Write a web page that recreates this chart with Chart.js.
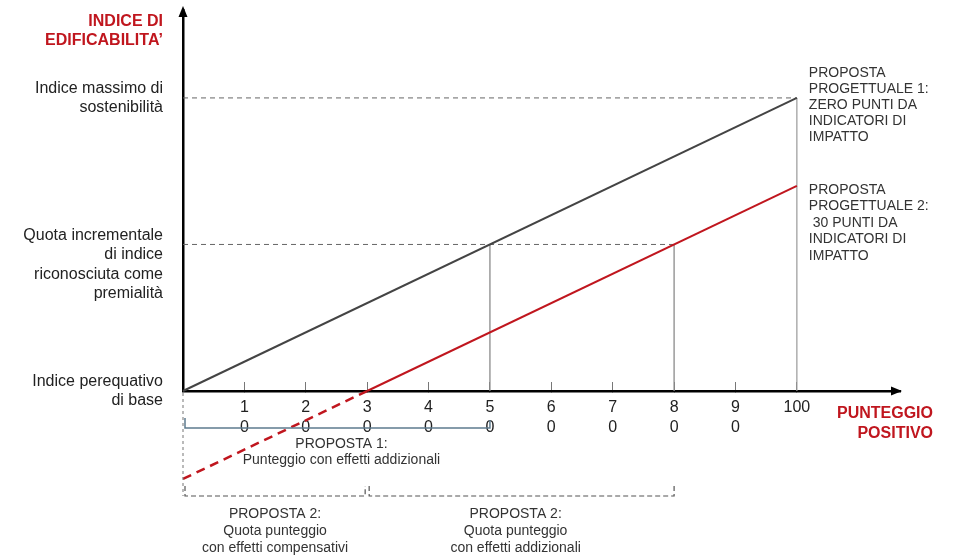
<!DOCTYPE html>
<html>
<head>
<meta charset="utf-8">
<script src="https://cdn.jsdelivr.net/npm/chart.js@4/dist/chart.umd.min.js"></script>
<style>
  body { margin: 0; background: #fff; }
  canvas { display: block; }
</style>
</head>
<body>
<canvas id="chart" width="955" height="560"></canvas>
<script>
// punteggio (asse x) e indice (asse y)
const xTicks = [10, 20, 30, 40, 50, 60, 70, 80, 90, 100];
const xTickLabels = [['1', '0'], ['2', '0'], ['3', '0'], ['4', '0'], ['5', '0'], ['6', '0'], ['7', '0'], ['8', '0'], ['9', '0'], '100'];

const score1 = [0, 100];
const index1 = [0, 100];
const score2 = [30, 100];
const index2 = [0, 70];
const score2Dashed = [0, 30];
const index2Dashed = [-30, 0];

const indexMax = 100;
const indexQuota = 50;
const indexBase = 0;
const quotaScore1 = 50;
const quotaScore2 = 80;
const thresholdScore = 30;

const yLabelTitle = ['INDICE DI', 'EDIFICABILITA’'];
const yLabelMax = ['Indice massimo di', 'sostenibilità'];
const yLabelQuota = ['Quota incrementale', 'di indice', 'riconosciuta come', 'premialità'];
const yLabelBase = ['Indice perequativo', 'di base'];
const xTitle = ['PUNTEGGIO', 'POSITIVO'];
const note1 = ['PROPOSTA', 'PROGETTUALE 1:', 'ZERO PUNTI DA', 'INDICATORI DI', 'IMPATTO'];
const note2 = ['PROPOSTA', 'PROGETTUALE 2:', ' 30 PUNTI DA', 'INDICATORI DI', 'IMPATTO'];
const prop1 = ['PROPOSTA 1:', 'Punteggio con effetti addizionali'];
const prop2a = ['PROPOSTA 2:', 'Quota punteggio', 'con effetti compensativi'];
const prop2b = ['PROPOSTA 2:', 'Quota punteggio', 'con effetti addizionali'];

const RED = '#c0161e';
const FONT = '"Liberation Sans", Arial, sans-serif';

function pts(xs, ys) {
    return xs.map((x, i) => ({ x: x, y: ys[i] }));
}

function lineSet(data, color, width, dash) {
    return {
        data: data,
        showLine: true,
        borderColor: color,
        borderWidth: width,
        borderDash: dash || [],
        pointRadius: 0,
        fill: false,
        clip: false
    };
}

function drawLines(ctx, lines, x, y, lh, align) {
    ctx.textAlign = align;
    ctx.textBaseline = 'middle';
    lines.forEach((t, i) => ctx.fillText(t, x, y + i * lh));
}

const annotations = {
    id: 'annotations',
    afterDraw(chart) {
        const ctx = chart.ctx;
        const xs = chart.scales.x;
        const ys = chart.scales.y;
        const area = chart.chartArea;
        const px = v => xs.getPixelForValue(v);
        const py = v => ys.getPixelForValue(v);
        const y0 = py(indexBase);
        ctx.save();

        // frecce degli assi
        ctx.fillStyle = '#000';
        ctx.beginPath();
        ctx.moveTo(area.left, area.top - 4);
        ctx.lineTo(area.left - 4.5, area.top + 7);
        ctx.lineTo(area.left + 4.5, area.top + 7);
        ctx.closePath();
        ctx.fill();
        ctx.beginPath();
        ctx.moveTo(area.right + 2, y0);
        ctx.lineTo(area.right - 9, y0 - 4.5);
        ctx.lineTo(area.right - 9, y0 + 4.5);
        ctx.closePath();
        ctx.fill();

        // etichette asse y
        const lx = area.left - 20;
        ctx.fillStyle = RED;
        ctx.font = 'bold 16px ' + FONT;
        drawLines(ctx, yLabelTitle, lx, area.top + 12, 19, 'right');
        ctx.fillStyle = '#222';
        ctx.font = '16px ' + FONT;
        drawLines(ctx, yLabelMax, lx, py(indexMax) - 9, 19, 'right');
        drawLines(ctx, yLabelQuota, lx, py(indexQuota) - 9, 19.5, 'right');
        drawLines(ctx, yLabelBase, lx, y0 - 9, 19, 'right');

        // titolo asse x
        ctx.fillStyle = RED;
        ctx.font = 'bold 16px ' + FONT;
        drawLines(ctx, xTitle, area.right + 33, y0 + 23, 20, 'right');

        // note a destra
        ctx.fillStyle = '#333';
        ctx.font = '14px ' + FONT;
        drawLines(ctx, note1, px(100) + 12, py(indexMax) - 25, 16, 'left');
        drawLines(ctx, note2, px(100) + 12, py(index2[1]) + 4, 16.5, 'left');

        // linea verticale tratteggiata sotto l'origine
        ctx.strokeStyle = '#777';
        ctx.lineWidth = 1;
        ctx.setLineDash([3, 3]);
        ctx.beginPath();
        ctx.moveTo(px(0), y0 + 2);
        ctx.lineTo(px(0), y0 + 105);
        ctx.stroke();

        // parentesi proposta 1
        ctx.setLineDash([]);
        ctx.strokeStyle = '#5d7b8e';
        ctx.lineWidth = 1.5;
        ctx.beginPath();
        ctx.moveTo(px(0) + 2, y0 + 27);
        ctx.lineTo(px(0) + 2, y0 + 37);
        ctx.lineTo(px(quotaScore1), y0 + 37);
        ctx.lineTo(px(quotaScore1), y0 + 29);
        ctx.stroke();

        ctx.fillStyle = '#333';
        ctx.font = '14px ' + FONT;
        drawLines(ctx, prop1, px(quotaScore1 / 2) + 5, y0 + 53, 16.5, 'center');

        // parentesi proposta 2
        ctx.strokeStyle = '#555';
        ctx.lineWidth = 1.2;
        ctx.setLineDash([5, 3]);
        ctx.beginPath();
        ctx.moveTo(px(0) + 2, y0 + 95);
        ctx.lineTo(px(0) + 2, y0 + 105);
        ctx.lineTo(px(thresholdScore) - 2, y0 + 105);
        ctx.lineTo(px(thresholdScore) - 2, y0 + 95);
        ctx.moveTo(px(thresholdScore) + 2, y0 + 95);
        ctx.lineTo(px(thresholdScore) + 2, y0 + 105);
        ctx.lineTo(px(quotaScore2), y0 + 105);
        ctx.lineTo(px(quotaScore2), y0 + 95);
        ctx.stroke();
        ctx.setLineDash([]);

        drawLines(ctx, prop2a, px(thresholdScore / 2), y0 + 123, 17, 'center');
        drawLines(ctx, prop2b, px((thresholdScore + quotaScore2) / 2) - 5, y0 + 123, 17, 'center');

        ctx.restore();
    }
};

const ctx = document.getElementById('chart').getContext('2d');
new Chart(ctx, {
    type: 'scatter',
    data: {
        datasets: [
            lineSet(pts(score1, index1), '#444', 2),
            lineSet(pts(score2, index2), RED, 2),
            lineSet(pts(score2Dashed, index2Dashed), RED, 2.5, [9, 6]),
            lineSet(pts([0, 100], [indexMax, indexMax]), '#666', 1, [5, 4]),
            lineSet(pts([0, quotaScore2], [indexQuota, indexQuota]), '#666', 1, [5, 4]),
            lineSet(pts([quotaScore1, quotaScore1], [indexBase, indexQuota]), '#8a8a8a', 1.3),
            lineSet(pts([quotaScore2, quotaScore2], [indexBase, indexQuota]), '#8a8a8a', 1.3),
            lineSet(pts([100, 100], [indexBase, indexMax]), '#999', 1.2)
        ]
    },
    options: {
        responsive: false,
        devicePixelRatio: 1,
        animation: false,
        layout: { padding: { left: 0, right: 55, top: 10, bottom: 0 } },
        scales: {
            x: {
                type: 'linear',
                min: 0,
                max: 116.8,
                afterFit: s => { s.height = 169; },
                afterBuildTicks: s => { s.ticks = xTicks.map(v => ({ value: v })); },
                ticks: {
                    callback: (v, i) => xTickLabels[i],
                    font: { size: 16, family: FONT },
                    color: '#222',
                    padding: 16.4,
                    maxRotation: 0,
                    autoSkip: false
                },
                grid: { display: true, drawOnChartArea: false, drawTicks: true, tickLength: -9, color: '#777', tickWidth: 1 },
                border: { display: true, color: '#000', width: 2.5 }
            },
            y: {
                type: 'linear',
                min: 0,
                max: 130,
                afterFit: s => { s.width = 183; },
                ticks: { display: false },
                grid: { display: false },
                border: { display: true, color: '#000', width: 2.5 }
            }
        },
        plugins: { legend: { display: false }, tooltip: { enabled: false } }
    },
    plugins: [annotations]
});
</script>
</body>
</html>
